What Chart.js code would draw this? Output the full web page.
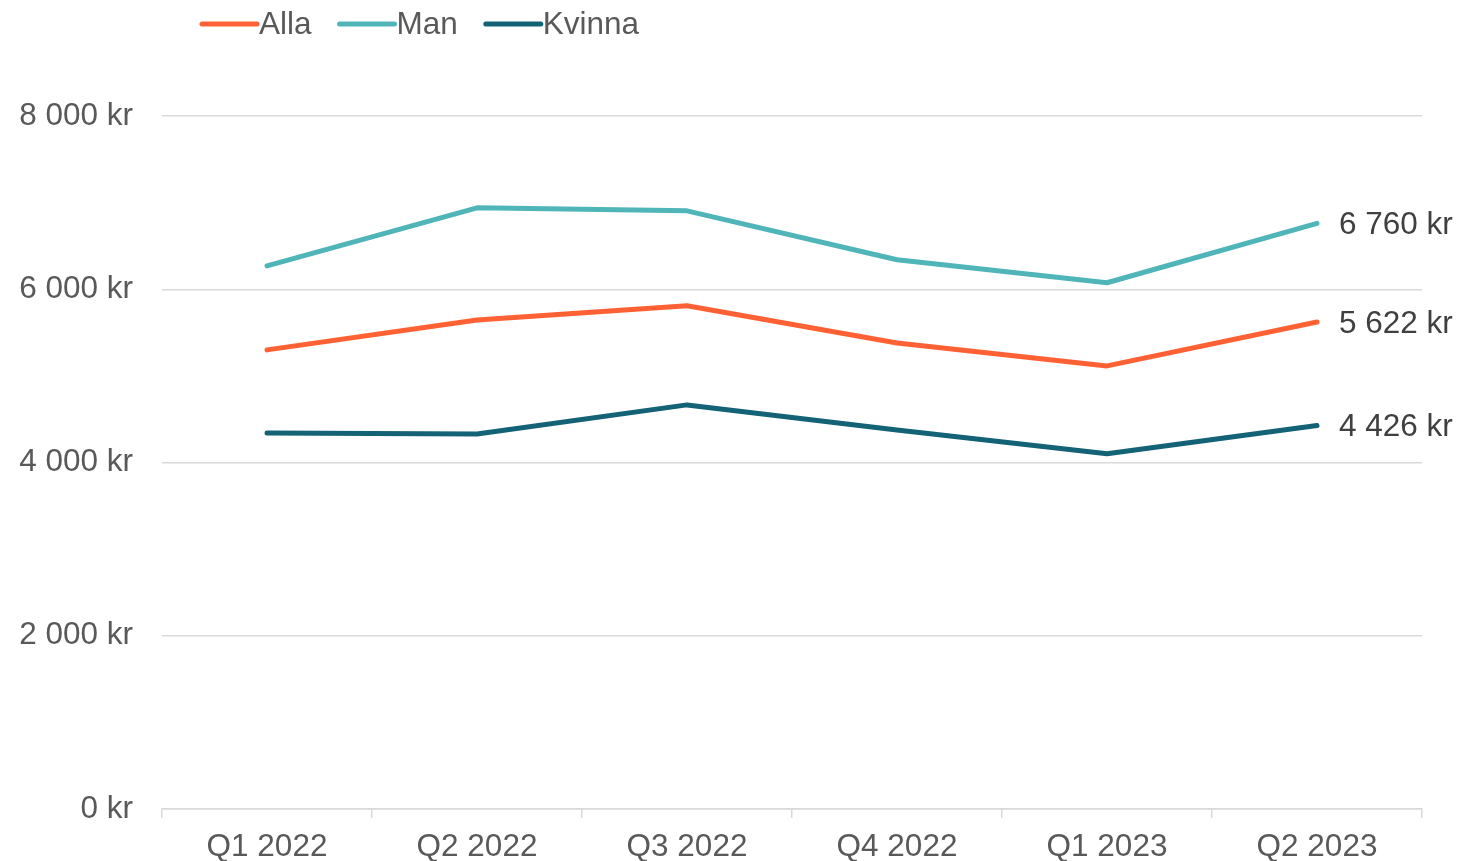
<!DOCTYPE html>
<html lang="sv">
<head>
    <meta charset="UTF-8">
    <title>Alla / Man / Kvinna</title>
    <script src="https://cdn.jsdelivr.net/npm/chart.js"></script>
    <style>
        html, body {
            margin: 0;
            padding: 0;
            background: #ffffff;
        }
        .chart-container {
            width: 1463px;
            height: 861px;
        }
    </style>
</head>
<body>
<div class="chart-container">
    <canvas id="chart"></canvas>
</div>

<script>
    const quarters = ['Q1 2022', 'Q2 2022', 'Q3 2022', 'Q4 2022', 'Q1 2023', 'Q2 2023'];
    const alla = [5300, 5645, 5810, 5380, 5115, 5622];
    const man = [6270, 6940, 6905, 6340, 6075, 6760];
    const kvinna = [4340, 4330, 4665, 4375, 4100, 4426];
    const yTicks = [0, 2000, 4000, 6000, 8000];

    const FONT = '"Liberation Sans", Arial, sans-serif';
    const SIZE = 31.5;

    function kr(v) {
        return String(Math.round(v)).replace(/\B(?=(\d{3})+(?!\d))/g, ' ') + ' kr';
    }

    // legend drawn by hand so it can sit at the top-left like the original
    const legendPlugin = {
        id: 'topLegend',
        afterDraw(chart) {
            const ctx = chart.ctx;
            let x = 202;
            const y = 24;
            ctx.save();
            ctx.font = SIZE + 'px ' + FONT;
            ctx.textBaseline = 'middle';
            chart.data.datasets.forEach(ds => {
                ctx.strokeStyle = ds.borderColor;
                ctx.lineWidth = 5;
                ctx.lineCap = 'round';
                ctx.beginPath();
                ctx.moveTo(x, y);
                ctx.lineTo(x + 55, y);
                ctx.stroke();
                ctx.fillStyle = '#595959';
                ctx.fillText(ds.label, x + 57, y + 1);
                x += 57 + ctx.measureText(ds.label).width + 28;
            });
            ctx.restore();
        }
    };

    // value labels next to the last point of each line
    const endLabels = {
        id: 'endLabels',
        afterDatasetsDraw(chart) {
            const ctx = chart.ctx;
            ctx.save();
            ctx.font = SIZE + 'px ' + FONT;
            ctx.fillStyle = '#404040';
            ctx.textBaseline = 'middle';
            chart.data.datasets.forEach((ds, i) => {
                const pts = chart.getDatasetMeta(i).data;
                const last = pts[pts.length - 1];
                ctx.fillText(kr(ds.data[ds.data.length - 1]), last.x + 22, last.y + 2);
            });
            ctx.restore();
        }
    };

    new Chart(document.getElementById('chart').getContext('2d'), {
        type: 'line',
        data: {
            labels: quarters,
            datasets: [
                { label: 'Alla', data: alla, borderColor: '#FF6134' },
                { label: 'Man', data: man, borderColor: '#50B5B8' },
                { label: 'Kvinna', data: kvinna, borderColor: '#136275' }
            ].map(d => Object.assign(d, {
                borderWidth: 5,
                borderCapStyle: 'round',
                borderJoinStyle: 'round',
                pointRadius: 0,
                pointHoverRadius: 0,
                tension: 0,
                fill: false
            }))
        },
        options: {
            responsive: true,
            maintainAspectRatio: false,
            animation: false,
            layout: { padding: { top: 116, right: 41, bottom: 0, left: 0 } },
            plugins: {
                legend: { display: false },
                tooltip: { enabled: false }
            },
            scales: {
                x: {
                    offset: true,
                    grid: {
                        offset: true,
                        drawOnChartArea: false,
                        drawTicks: true,
                        tickLength: 9,
                        color: '#d9d9d9',
                        lineWidth: 1.5
                    },
                    border: { display: true, color: '#d9d9d9', width: 1.5 },
                    ticks: {
                        font: { family: FONT, size: SIZE },
                        color: '#595959',
                        padding: 10,
                        maxRotation: 0
                    },
                    afterFit(scale) { scale.height = 52; }
                },
                y: {
                    min: 0,
                    max: 8000,
                    afterBuildTicks(scale) {
                        scale.ticks = yTicks.map(v => ({ value: v }));
                    },
                    grid: {
                        drawTicks: false,
                        color: '#d9d9d9',
                        lineWidth: 1.5
                    },
                    border: { display: false },
                    ticks: {
                        font: { family: FONT, size: SIZE },
                        color: '#595959',
                        padding: 29,
                        callback: v => kr(v)
                    },
                    afterFit(scale) { scale.width = 162; }
                }
            }
        },
        plugins: [legendPlugin, endLabels]
    });
</script>
</body>
</html>
